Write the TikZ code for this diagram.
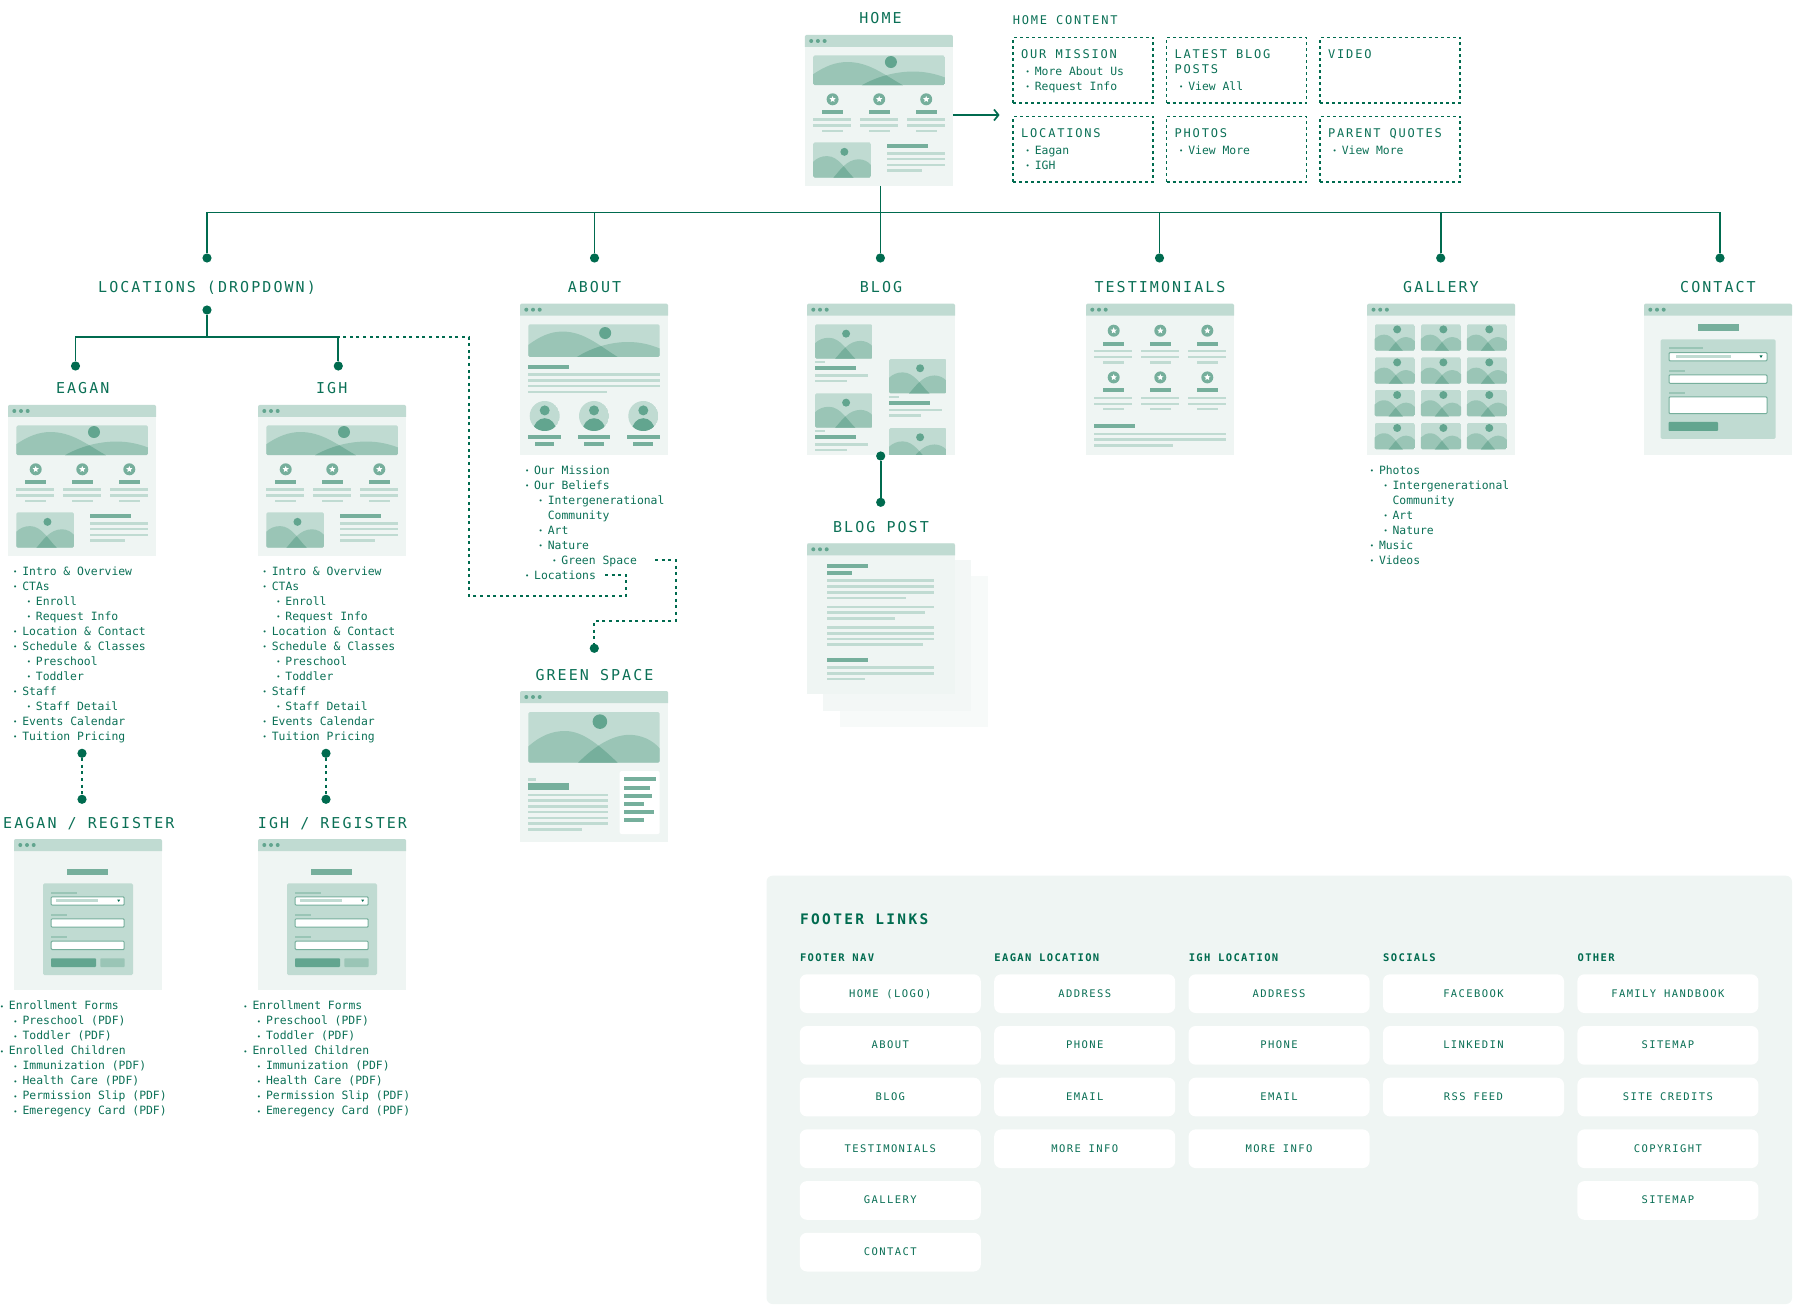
\documentclass[tikz,border=0pt]{standalone}
\usepackage{fontspec}
\usetikzlibrary{arrows.meta}
\newfontfamily\listface{DejaVu Sans Mono}
\newfontfamily\headface[LetterSpace=13.7]{DejaVu Sans Mono}
\newfontfamily\contface[LetterSpace=15]{DejaVu Sans Mono}
\newfontfamily\btnface[LetterSpace=13.5]{DejaVu Sans Mono}
\newfontfamily\colface[LetterSpace=13]{DejaVu Sans Mono Bold}
\newfontfamily\footface[LetterSpace=16.3]{DejaVu Sans Mono Bold}
\definecolor{cLine}{HTML}{006B4F}
\definecolor{cText}{HTML}{0B7056}
\definecolor{cPage}{HTML}{EFF5F3}
\definecolor{cPageM}{HTML}{F3F7F6}
\definecolor{cPageB}{HTML}{F7FAF9}
\definecolor{cBar}{HTML}{C0DBD2}
\definecolor{cHill}{HTML}{9AC5B6}
\definecolor{cDark}{HTML}{76AF9C}
\definecolor{cSun}{HTML}{62A58F}
\tikzset{
  conn/.style={draw=cLine,line width=1.7pt},
  dots/.style={draw=cLine,line width=1.7pt,dash pattern=on 3pt off 3.6pt},
  dot/.style={circle,fill=cLine,inner sep=0pt,minimum size=9.2pt},
  pagebox/.style={fill=cPage,inner sep=0pt,outer sep=0pt,minimum width=148pt,minimum height=151pt,anchor=north west},
  sheetm/.style={pagebox,fill=cPageM},
  sheetb/.style={pagebox,fill=cPageB},
  ltxt/.style={font=\listface\fontsize{11.4}{11.4}\selectfont,text=cText,inner sep=0pt,anchor=base west},
  htxt/.style={font=\headface\fontsize{15}{15}\selectfont,text=cText,inner sep=0pt,anchor=base},
  ctxt/.style={font=\contface\fontsize{12}{12}\selectfont,text=cText,inner sep=0pt,anchor=base west},
  contbox/.style={draw=cLine,line width=1.5pt,dash pattern=on 3pt off 3pt,inner sep=0pt,outer sep=0pt,minimum width=140pt,minimum height=65.5pt,anchor=north west},
  panel/.style={fill=cPage,rounded corners=6pt,inner sep=0pt,outer sep=0pt,minimum width=1025.5pt,minimum height=428.3pt,anchor=north west},
  ftitle/.style={font=\footface\fontsize{14.5}{14.5}\selectfont,text=cLine,inner sep=0pt,anchor=base west},
  fcol/.style={font=\colface\fontsize{10.5}{10.5}\selectfont,text=cLine,inner sep=0pt,anchor=base west},
  fbtn/.style={fill=white,rounded corners=7pt,inner sep=0pt,minimum width=181pt,minimum height=38.7pt,anchor=center,text=cText,
     font=\btnface\fontsize{10.5}{10.5}\selectfont,text height=7pt,text depth=0pt},
}
\newcount\licnt
\newcommand\B{\leavevmode\llap{\raisebox{.6pt}{\fontsize{7}{7}\selectfont •}\kern4.9pt}}
\newcommand\wflist[3]{%
  \foreach \lv/\tx [count=\n from 0] in {#3}{%
    \global\advance\licnt by 1
    \node[ltxt] (li\the\licnt) at ({#1+13.6*\lv},{#2+4.1+15*\n}) {\tx};
  }}
% --- small drawing helpers (local coordinates in px)
\newcommand\wfln[3]{\fill[cBar] (#1,#2-1.25) rectangle (#3,#2+1.25);}
\newcommand\wfbar[4]{\fill[cDark] (#1,#2) rectangle (#3,#4);}
\def\hLa{(0,.63) .. controls (.09,.36) and (.17,.22) .. (.26,.22) .. controls (.42,.22) and (.53,.62) .. (.68,1) -- (0,1) -- cycle}
\def\hRa{(.37,1) .. controls (.48,.72) and (.62,.54) .. (.76,.54) .. controls (.85,.54) and (.93,.62) .. (1,.74) -- (1,1) -- cycle}
\def\hLb{(0,.68) .. controls (.09,.47) and (.18,.375) .. (.28,.375) .. controls (.42,.375) and (.55,.68) .. (.68,1) -- (0,1) -- cycle}
\def\hRb{(.38,1) .. controls (.5,.68) and (.64,.45) .. (.77,.45) .. controls (.86,.45) and (.95,.56) .. (1,.72) -- (1,1) -- cycle}
\def\hLc{(0,.55) .. controls (.06,.45) and (.14,.39) .. (.24,.39) .. controls (.44,.39) and (.56,.78) .. (.7,1) -- (0,1) -- cycle}
\def\hRc{(.35,1) .. controls (.46,.8) and (.58,.48) .. (.79,.48) .. controls (.87,.48) and (.95,.54) .. (1,.64) -- (1,1) -- cycle}
% x y w h sunx suny sunr hills
\newcommand\wfimg[8]{%
  \begin{scope}
    \clip[rounded corners=1.5pt] (#1,#2) rectangle ++(#3,#4);
    \fill[cBar] (#1,#2) rectangle ++(#3,#4);
    \begin{scope}[shift={(#1,#2)},xscale=#3,yscale=#4]
      \fill[cSun] (#5,#6) circle[x radius={#7/#3},y radius={#7/#4}];
      \expandafter\let\expandafter\curL\csname hL#8\endcsname
      \expandafter\let\expandafter\curR\csname hR#8\endcsname
      \fill[cHill] \curL;
      \fill[cHill] \curR;
      \begin{scope}
        \clip \curL;
        \fill[cDark] \curR;
      \end{scope}
    \end{scope}
  \end{scope}}
\newcommand\wfstar[2]{%
  \fill[cDark] (#1,#2) circle[radius=6];
  \fill[white,shift={(#1,#2)}] (0,-3.3) -- (.88,-1.21) -- (3.14,-1.02) -- (1.43,.46) -- (1.94,2.67) -- (0,1.5) -- (-1.94,2.67) -- (-1.43,.46) -- (-3.14,-1.02) -- (-.88,-1.21) -- cycle;}
\newcommand\starrow[1]{%
  \foreach \cn/\cx in {0/27.7,1/74.3,2/121.3}{%
    \wfstar{\cx}{#1}
    \wfbar{16.7+47*\cn}{#1+11}{38+47*\cn}{#1+15}
    \wfln{8.3+47*\cn}{#1+20.4}{46+47*\cn}
    \wfln{8.3+47*\cn}{#1+26.4}{46+47*\cn}
    \wfln{16.7+47*\cn}{#1+31.7}{38+47*\cn}
  }}
\newcommand\pagebase[3]{%
  \node[pagebox] (#1) at (#2,#3) {};
  \begin{scope}[shift={(#2,#3)}]
    \fill[cBar,rounded corners=1.5pt] (0,12) -- (0,0) -- (148,0) [sharp corners] -- (148,12) -- cycle;
    \foreach \dx in {6.3,13,19.7}{\fill[cSun] (\dx,6) circle[radius=2];}
  \end{scope}}
\newcommand\homepage[3]{%
  \pagebase{#1}{#2}{#3}
  \begin{scope}[shift={(#2,#3)}]
    \wfimg{8.3}{20.5}{131.7}{29.7}{.59}{.22}{6}{a}
    \starrow{64.3}
    \wfimg{8.3}{107.3}{57.7}{35.4}{.54}{.27}{4}{c}
    \wfbar{82}{109}{123.3}{113}
    \wfln{82}{118.3}{140}\wfln{82}{124}{140}\wfln{82}{130}{140}\wfln{82}{135.7}{117}
  \end{scope}}
\newcommand\aboutpage[3]{%
  \pagebase{#1}{#2}{#3}
  \begin{scope}[shift={(#2,#3)}]
    \wfimg{8.3}{20.7}{131.4}{32.6}{.585}{.265}{6}{a}
    \wfbar{8.3}{61.7}{49.3}{65.7}
    \wfln{8.3}{71}{139.7}\wfln{8.3}{76.7}{139.7}\wfln{8.3}{82.3}{139.7}\wfln{8.3}{88.3}{87}
    \foreach \pn/\px in {0/24.7,1/74,2/123.3}{%
      \begin{scope}
        \clip (\px,112.3) circle[radius=15];
        \fill[cBar] (\px,112.3) circle[radius=15];
        \fill[cSun] (\px,106.7) circle[radius=5];
        \fill[cSun] (\px,127.5) ellipse[x radius=11.5,y radius=13];
      \end{scope}
      \wfbar{8.3+49.3*\pn}{131.3}{41+49.3*\pn}{135.3}
      \wfbar{14.7+49.3*\pn}{138.7}{34.3+49.3*\pn}{142.7}
    }
  \end{scope}}
\newcommand\blogitem[2]{%
  \wfimg{#1}{#2}{57.6}{34.3}{.54}{.27}{4}{c}
  \wfln{#1}{#2+37.8}{#1+10}
  \wfbar{#1}{#2+42}{#1+41}{#2+46}
  \wfln{#1}{#2+51}{#1+52.7}
  \wfln{#1}{#2+56.6}{#1+31.7}}
\newcommand\blogpage[3]{%
  \pagebase{#1}{#2}{#3}
  \begin{scope}[shift={(#2,#3)}]
    \clip (0,0) rectangle (148,151);
    \blogitem{8}{20.7}
    \blogitem{82}{55.3}
    \blogitem{8}{89.7}
    \blogitem{82}{124.3}
  \end{scope}}
\newcommand\testpage[3]{%
  \pagebase{#1}{#2}{#3}
  \begin{scope}[shift={(#2,#3)}]
    \starrow{27}
    \starrow{73.7}
    \wfbar{8}{120.7}{49}{124.7}
    \wfln{8}{130.3}{139.7}\wfln{8}{136}{139.7}\wfln{8}{141.7}{86.8}
  \end{scope}}
\newcommand\gallerypage[3]{%
  \pagebase{#1}{#2}{#3}
  \begin{scope}[shift={(#2,#3)}]
    \foreach \ix in {7.5,53.7,99.6}{%
      \foreach \iy in {20.7,53.7,86.3,119.3}{%
        \wfimg{\ix}{\iy}{40.1}{26.3}{.56}{.19}{4}{c}
      }}
  \end{scope}}
\newcommand\wffield[4]{% x1 y1 x2 y2
  \draw[cDark,fill=white,line width=1pt,rounded corners=1pt] (#1,#2) rectangle (#3,#4);}
\newcommand\contactpage[3]{%
  \pagebase{#1}{#2}{#3}
  \begin{scope}[shift={(#2,#3)}]
    \wfbar{53.8}{20.7}{94.9}{27.3}
    \fill[cBar,rounded corners=1.5pt] (16.5,35.7) rectangle (131.7,135.3);
    \fill[cHill] (24.5,43.7) rectangle (59,45.7);
    \wffield{25}{48.9}{123}{57.2}
    \wfln{31.6}{53}{87.3}
    \fill[cLine] (115.5,51.8) -- (118.5,51.8) -- (117,54.3) -- cycle;
    \fill[cHill] (24.5,66) rectangle (41,68);
    \wffield{25}{71.2}{123}{79.6}
    \fill[cHill] (24.5,88) rectangle (41,90);
    \wffield{25}{93.2}{123}{110}
    \fill[cSun,rounded corners=.8pt] (24.5,118.3) rectangle (74,127.3);
  \end{scope}}
\newcommand\registerpage[3]{%
  \pagebase{#1}{#2}{#3}
  \begin{scope}[shift={(#2,#3)}]
    \wfbar{53.3}{29.7}{94.3}{36.3}
    \fill[cBar,rounded corners=1.5pt] (29,44.3) rectangle (119,136);
    \fill[cHill] (37,52.7) rectangle (62.7,54.7);
    \wffield{37.2}{57.8}{110.2}{66.2}
    \wfln{42.3}{61.7}{83.7}
    \fill[cLine] (103.2,60.6) -- (106.2,60.6) -- (104.7,62.9) -- cycle;
    \fill[cHill] (37,74.7) rectangle (53.3,76.7);
    \wffield{37.2}{79.8}{110.2}{88.2}
    \fill[cHill] (37,97) rectangle (53.3,99);
    \wffield{37.2}{102.2}{110.2}{110.6}
    \fill[cSun,rounded corners=.8pt] (37,119.3) rectangle (82,128);
    \fill[cHill,rounded corners=.8pt] (86.3,119.3) rectangle (110.7,128);
  \end{scope}}
\newcommand\greenpage[3]{%
  \pagebase{#1}{#2}{#3}
  \begin{scope}[shift={(#2,#3)}]
    \wfimg{8.3}{21}{131.4}{50.7}{.545}{.19}{7.3}{b}
    \fill[cBar] (8.3,87.1) rectangle (16.3,89.5);
    \wfbar{8.3}{92}{49.3}{98.7}
    \foreach \ly in {104,109.7,115.3,121,127,132.7}{\wfln{8.3}{\ly}{88}}
    \wfln{8.3}{138.3}{62.3}
    \fill[white,rounded corners=2pt] (99.7,80) rectangle (139.7,143);
    \foreach \ly/\lx in {88.3/135.7,96.7/129.7,104.7/132.3,113/124,121.3/134.3,129.3/124}{\wfbar{103.7}{\ly-2}{\lx}{\ly+2}}
  \end{scope}}
\newcommand\postpage[3]{%
  \pagebase{#1}{#2}{#3}
  \begin{scope}[shift={(#2,#3)}]
    \wfbar{20.3}{20.7}{61.3}{24.7}
    \wfbar{20.3}{28}{45}{32}
    \wfln{20.3}{37.3}{127}\wfln{20.3}{43.3}{127}\wfln{20.3}{49}{127}\wfln{20.3}{54.7}{99}
    \wfln{20.3}{63.7}{127}\wfln{20.3}{69.3}{118}\wfln{20.3}{75.3}{88.3}
    \wfln{20.3}{84}{127}\wfln{20.3}{90}{127}\wfln{20.3}{95.7}{127}\wfln{20.3}{101.3}{115.7}
    \wfbar{20.3}{115}{61.3}{119}
    \wfln{20.3}{124.3}{127}\wfln{20.3}{130}{127}\wfln{20.3}{135.7}{58}
  \end{scope}}
\begin{document}
\begin{tikzpicture}[x=1pt,y=-1pt]
\useasboundingbox (0,0) rectangle (1800,1313);
% ---------- pages
\homepage{home}{804.9}{35}
\homepage{eagan}{8}{405}
\homepage{igh}{258}{405}
\aboutpage{about}{520}{303.7}
\blogpage{blog}{807}{303.7}
\testpage{testi}{1086}{303.7}
\gallerypage{gallery}{1367.2}{303.7}
\contactpage{contact}{1644}{303.7}
\node[sheetb] (sheetc) at (840,576) {};
\node[sheetm] (sheetb) at (823.3,560) {};
\postpage{post}{807}{543.3}
\greenpage{green}{520}{691}
\registerpage{eagreg}{14}{839}
\registerpage{ighreg}{258}{839}
% ---------- titles
\node[htxt] (tHome) at (880.5,23.7) {HOME};
\node[htxt] (tLoc) at (207,293) {LOCATIONS (DROPDOWN)};
\node[htxt] (tAbout) at (594.5,293) {ABOUT};
\node[htxt] (tBlog) at (881,293) {BLOG};
\node[htxt] (tTest) at (1160,293) {TESTIMONIALS};
\node[htxt] (tGal) at (1441,293) {GALLERY};
\node[htxt] (tCon) at (1718,293) {CONTACT};
\node[htxt] (tEag) at (82.7,394) {EAGAN};
\node[htxt] (tIgh) at (331.7,394) {IGH};
\node[htxt] (tPost) at (881,532.7) {BLOG POST};
\node[htxt] (tGreen) at (594.5,680.4) {GREEN SPACE};
\node[htxt] (tEagR) at (88.8,828.4) {EAGAN / REGISTER};
\node[htxt] (tIghR) at (332.5,828.4) {IGH / REGISTER};
% ---------- main tree
\coordinate (trunk) at (880.4,212.5);
\node[dot] (dLoc) at (207,258) {};
\node[dot] (dAbout) at (594.5,258) {};
\node[dot] (dBlog) at (880.4,258) {};
\node[dot] (dTest) at (1159.5,258) {};
\node[dot] (dGal) at (1440.7,258) {};
\node[dot] (dCon) at (1720,258) {};
\draw[conn] (dLoc |- trunk) -- (dCon |- trunk);
\draw[conn] (dBlog |- home.south) -- (dBlog);
\foreach \dn in {dLoc,dAbout,dTest,dGal,dCon}{\draw[conn] (\dn |- trunk) -- (\dn);}
% ---------- locations branch
\coordinate (locbar) at (207,336.7);
\node[dot] (dLocB) at (207,310) {};
\node[dot] (dEag) at (75.5,366) {};
\node[dot] (dIgh) at (338.3,366) {};
\draw[conn] (dEag) -- (dEag |- locbar) -- (dIgh |- locbar) -- (dIgh);
\draw[conn] (dLocB) -- (locbar);
% ---------- dotted links
\coordinate (locEnd) at (605,574.7);
\coordinate (grEnd) at (655,560);
\node[dot] (dGreen) at (594.3,648.3) {};
\draw[dots] (locEnd) -- (625.7,574.7) -- (625.7,596) -- (468.7,596) -- (468.7,336.7) -- (dIgh |- locbar);
\draw[dots] (grEnd) -- (675.7,560) -- (675.7,620.7) -- (594.3,620.7) -- (dGreen);
\node[dot] (dBlogA) at (880.7,456) {};
\node[dot] (dBlogB) at (880.7,502.3) {};
\draw[conn] (dBlogA) -- (dBlogB);
\node[dot] (dEagA) at (82,753.3) {};
\node[dot] (dEagB) at (82,799.3) {};
\draw[dots] (dEagA) -- (dEagB);
\node[dot] (dIghA) at (326,753.3) {};
\node[dot] (dIghB) at (326,799.3) {};
\draw[dots] (dIghA) -- (dIghB);
% ---------- lists
\wflist{22.1}{571}{0/\B Intro \& Overview,0/\B CTAs,1/\B Enroll,1/\B Request Info,0/\B Location \& Contact,0/\B Schedule \& Classes,1/\B Preschool,1/\B Toddler,0/\B Staff,1/\B Staff Detail,0/\B Events Calendar,0/\B Tuition Pricing}
\wflist{271.6}{571}{0/\B Intro \& Overview,0/\B CTAs,1/\B Enroll,1/\B Request Info,0/\B Location \& Contact,0/\B Schedule \& Classes,1/\B Preschool,1/\B Toddler,0/\B Staff,1/\B Staff Detail,0/\B Events Calendar,0/\B Tuition Pricing}
\wflist{8.8}{1005.7}{0/\B Enrollment Forms,1/\B Preschool (PDF),1/\B Toddler (PDF),0/\B Enrolled Children,1/\B Immunization (PDF),1/\B Health Care (PDF),1/\B Permission Slip (PDF),1/\B Emeregency Card (PDF)}
\wflist{252.3}{1005.7}{0/\B Enrollment Forms,1/\B Preschool (PDF),1/\B Toddler (PDF),0/\B Enrolled Children,1/\B Immunization (PDF),1/\B Health Care (PDF),1/\B Permission Slip (PDF),1/\B Emeregency Card (PDF)}
\wflist{534}{470.3}{0/\B Our Mission,0/\B Our Beliefs,1/\B Intergenerational,1/Community,1/\B Art,1/\B Nature,2/\B Green Space,0/\B Locations}
\wflist{1378.8}{470.3}{0/\B Photos,1/\B Intergenerational,1/Community,1/\B Art,1/\B Nature,0/\B Music,0/\B Videos}
% ---------- home content
\node[ctxt] (hcT) at (1012.6,24.4) {HOME CONTENT};
\node[contbox] (b1) at (1013,37.7) {};
\node[contbox] (b2) at (1166.5,37.7) {};
\node[contbox] (b3) at (1320,37.7) {};
\node[contbox] (b4) at (1013,116.7) {};
\node[contbox] (b5) at (1166.5,116.7) {};
\node[contbox] (b6) at (1320,116.7) {};
\coordinate (arrEnd) at (999.6,115);
\draw[conn,-{Straight Barb[length=4.5pt,width=11pt]}] (home.east |- arrEnd) -- (arrEnd);
\node[ctxt] (c1a) at (1021,58.4) {OUR MISSION};
\node[ltxt] (c1b) at (1034.6,75.4) {\B More About Us};
\node[ltxt] (c1c) at (1034.6,90.4) {\B Request Info};
\node[ctxt] (c2a) at (1174.5,58.4) {LATEST BLOG};
\node[ctxt] (c2b) at (1174.5,73.4) {POSTS};
\node[ltxt] (c2c) at (1188.1,90.4) {\B View All};
\node[ctxt] (c3a) at (1328,58.4) {VIDEO};
\node[ctxt] (c4a) at (1021,137.1) {LOCATIONS};
\node[ltxt] (c4b) at (1034.6,154.4) {\B Eagan};
\node[ltxt] (c4c) at (1034.6,169.4) {\B IGH};
\node[ctxt] (c5a) at (1174.5,137.1) {PHOTOS};
\node[ltxt] (c5b) at (1188.1,154.4) {\B View More};
\node[ctxt] (c6a) at (1328,137.1) {PARENT QUOTES};
\node[ltxt] (c6b) at (1341.6,154.4) {\B View More};
% ---------- footer
\node[panel] (footer) at (766.5,875.7) {};
\node[ftitle] (fT) at (799.8,924) {FOOTER LINKS};
\node[fcol] (h1) at (799.8,961.2) {FOOTER NAV};
\node[fcol] (h2) at (994.2,961.2) {EAGAN LOCATION};
\node[fcol] (h3) at (1188.6,961.2) {IGH LOCATION};
\node[fcol] (h4) at (1383,961.2) {SOCIALS};
\node[fcol] (h5) at (1577.4,961.2) {OTHER};
\foreach \col/\items in {0/{HOME (LOGO),ABOUT,BLOG,TESTIMONIALS,GALLERY,CONTACT},
                         1/{ADDRESS,PHONE,EMAIL,MORE INFO},
                         2/{ADDRESS,PHONE,EMAIL,MORE INFO},
                         3/{FACEBOOK,LINKEDIN,RSS FEED},
                         4/{FAMILY HANDBOOK,SITEMAP,SITE CREDITS,COPYRIGHT,SITEMAP}}{%
  \foreach \itm [count=\rw from 0] in \items {%
    \node[fbtn] (btn\col-\rw) at ({890.3+194.4*\col},{993.65+51.7*\rw}) {\itm};
  }}
\end{tikzpicture}
\end{document}
